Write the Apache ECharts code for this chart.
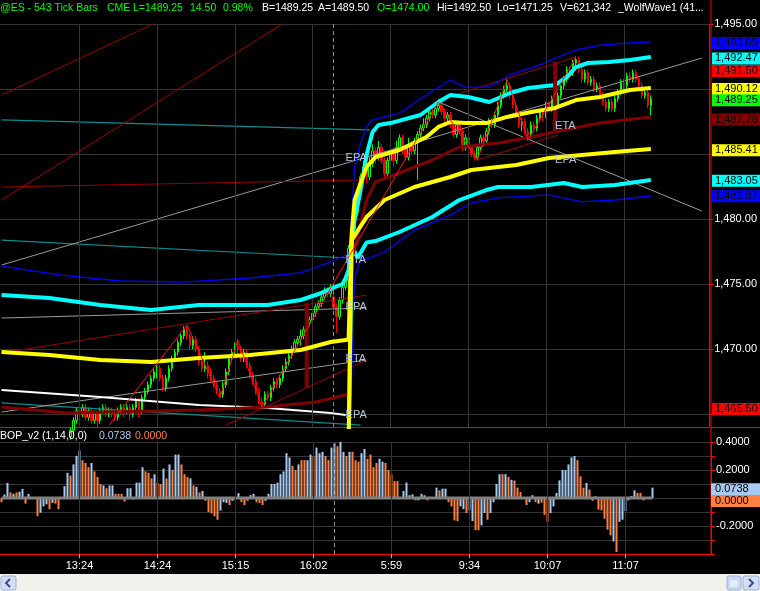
<!DOCTYPE html>
<html><head><meta charset="utf-8">
<script src="https://cdn.jsdelivr.net/npm/echarts@6/dist/echarts.min.js"></script>
<style>html,body{margin:0;padding:0;background:#000;overflow:hidden}#c{width:760px;height:591px}</style>
</head><body><div id="c"></div>
<script>
// ---------- DATA ----------
const timeLabels = ['13:24','14:24','15:15','16:02','5:59','9:34','10:07','11:07'];
const timeIdx = [26,52,78,104,130,156,182,208];
const sessionBreak = 111;
const hiddenPriceLabels = [1465, 1485, 1490];
const opens = [
1462.5,1462.25,1462.5,1463,1462.75,1463,1462.75,1463,1463.25,1463,
1463.25,1463,1462.5,1462.25,1462,1462,1461.75,1461.75,1461.5,1461.5,
1461.75,1462.25,1462.75,1463.25,1463.75,1464.5,1465.25,1465,1465.5,1464.75,
1465.25,1464.5,1465,1464.5,1465.25,1465.5,1465,1465.25,1465,1464.75,
1465.25,1465.5,1465.25,1465.5,1465,1465.5,1466,1465.25,1466.25,1466.75,
1467.25,1467.75,1468.25,1468.5,1467.75,1467,1467.75,1468.5,1469.25,1469.75,
1470.5,1471,1471.5,1471,1470.25,1470.75,1470,1469,1468.5,1468.75,
1468.25,1467.75,1467.25,1466.75,1466.5,1467.25,1468.25,1469.25,1469.75,1470.25,
1470,1469.25,1469.75,1468.75,1468,1467.5,1466.75,1466,1465.75,1466.5,
1466.25,1467,1467.5,1467.25,1467.75,1468.5,1469,1469.5,1470,1470.5,
1470.75,1471,1471.5,1472,1472.25,1472.75,1473.25,1473.5,1474,1474.5,
1474.25,1474,1473.25,1472.5,1473.75,1474.75,1475.25,1477.75,1479.25,1480.5,
1482,1483.25,1484,1483.25,1484.25,1485.25,1484.75,1485.5,1484.5,1483.5,
1484.5,1485.25,1484.5,1485.5,1486.25,1485.5,1484.75,1485.75,1485.25,1486,
1486.5,1487,1487.25,1487.75,1488.25,1488,1488.5,1488.75,1488.25,1487.75,
1488,1487.25,1486.5,1487.25,1486.75,1485.5,1486.25,1485.5,1485,1484.75,
1485.5,1486.25,1486,1486.75,1487.5,1487.25,1488,1488.75,1489.5,1490,
1490.25,1489.5,1488.75,1488,1487.25,1487.5,1486.75,1486.5,1487.25,1487,
1487.75,1488.25,1488,1488.75,1488.5,1489.25,1488.75,1489.5,1490.25,1490.75,
1491.5,1491.25,1492,1492.25,1491.5,1490.75,1491.25,1490.5,1490.75,1490,
1490.25,1489.5,1489,1488.5,1489,1488.5,1489.25,1489.75,1490.5,1490.25,
1491,1490.75,1491.25,1490.75,1490.25,1489.5,1489.75,1488.75];
const closes = [
1462.25,1462.5,1463,1462.75,1463,1462.75,1463,1463.25,1463,1463.25,
1463,1462.5,1462.25,1462,1462,1461.75,1461.75,1461.5,1461.5,1461.75,
1462.25,1462.75,1463.25,1463.75,1464.5,1465.25,1465,1465.5,1464.75,1465.25,
1464.5,1465,1464.5,1465.25,1465.5,1465,1465.25,1465,1464.75,1465.25,
1465.5,1465.25,1465.5,1465,1465.5,1466,1465.25,1466.25,1466.75,1467.25,
1467.75,1468.25,1468.5,1467.75,1467,1467.75,1468.5,1469.25,1469.75,1470.5,
1471,1471.5,1471,1470.25,1470.75,1470,1469,1468.5,1468.75,1468.25,
1467.75,1467.25,1466.75,1466.5,1467.25,1468.25,1469.25,1469.75,1470.25,1470,
1469.25,1469.75,1468.75,1468,1467.5,1466.75,1466,1465.75,1466.5,1466.25,
1467,1467.5,1467.25,1467.75,1468.5,1469,1469.5,1470,1470.5,1470.75,
1471,1471.5,1472,1472.25,1472.75,1473.25,1473.5,1474,1474.5,1474.25,
1474.75,1473.25,1472.5,1473.75,1474.75,1475.25,1477.75,1479.25,1480.5,1482,
1483.25,1484,1483.25,1484.25,1485.25,1484.75,1485.5,1484.5,1483.5,1484.5,
1485.25,1484.5,1485.5,1486.25,1485.5,1484.75,1485.75,1485.25,1486,1486.5,
1487,1487.25,1487.75,1488.25,1488,1488.5,1488.75,1488.25,1487.75,1488,
1487.25,1486.5,1487.25,1486.75,1485.5,1486.25,1485.5,1485,1484.75,1485.5,
1486.25,1486,1486.75,1487.5,1487.25,1488,1488.75,1489.5,1490,1490.25,
1489.5,1488.75,1488,1487.25,1487.5,1486.75,1486.5,1487.25,1487,1487.75,
1488.25,1488,1488.75,1488.5,1489.25,1488.75,1489.5,1490.25,1490.75,1491.5,
1491.25,1492,1492.25,1491.5,1490.75,1491.25,1490.5,1490.75,1490,1490.25,
1489.5,1489,1488.5,1489,1488.5,1489.25,1489.75,1490.5,1490.25,1491,
1490.75,1491.25,1490.75,1490.25,1489.5,1489.75,1488.75,1489.25];
const highs = [
1462.75,1462.75,1463.25,1463.25,1463.25,1463.25,1463.25,1463.5,1463.5,1463.5,
1463.5,1463,1462.75,1462.5,1462.25,1462.25,1462,1462,1461.75,1462,
1462.5,1463,1463.5,1464,1464.75,1465.5,1465.5,1465.75,1465.75,1465.5,
1465.5,1465.25,1465.25,1465.5,1465.75,1465.75,1465.5,1465.5,1465.25,1465.5,
1465.75,1465.75,1465.75,1465.75,1465.75,1466.25,1466.25,1466.5,1467,1467.5,
1468,1468.5,1468.75,1468.75,1468,1468,1468.75,1469.5,1470,1470.75,
1471.25,1471.75,1471.75,1471.25,1471,1471,1470.25,1469.25,1469.75,1469,
1468.5,1468,1467.5,1467,1467.5,1468.5,1469.5,1470,1470.5,1470.75,
1470.25,1470,1470,1469,1468.25,1467.75,1467,1466.25,1466.75,1466.75,
1467.25,1467.75,1467.75,1468,1468.75,1469.25,1469.75,1470.25,1470.75,1471,
1471.5,1471.75,1472.25,1472.5,1473,1473.5,1473.75,1474.25,1474.75,1474.75,
1475,1474.5,1473.5,1474,1475,1475.5,1478,1479.5,1480.75,1482.25,
1483.5,1484.5,1484.25,1484.75,1485.75,1485.5,1486,1485.75,1484.75,1484.75,
1485.75,1485.5,1486,1486.5,1486.5,1485.75,1486.25,1486,1486.25,1486.75,
1487.25,1487.75,1488,1488.5,1488.5,1488.75,1489.25,1489,1488.5,1488.25,
1488.25,1487.5,1487.5,1487.5,1487,1486.5,1486.5,1485.75,1485.25,1485.75,
1486.5,1486.5,1487,1487.75,1487.75,1488.25,1489,1489.75,1490.25,1490.75,
1490.5,1489.75,1489,1488.25,1487.75,1487.75,1487,1487.5,1487.5,1488,
1488.5,1488.5,1489,1489,1489.5,1489.5,1489.75,1490.5,1491,1491.75,
1491.75,1492.25,1492.5,1492.5,1491.75,1491.5,1491.5,1491,1491,1490.5,
1490.5,1489.75,1489.25,1489.25,1489.25,1489.5,1490,1490.75,1490.75,1491.25,
1491.25,1491.5,1491.5,1491,1490.5,1490,1490,1489.5];
const lows = [
1462,1462,1462.25,1462.5,1462.5,1462.5,1462.5,1462.75,1462.75,1462.75,
1462.75,1462.25,1462,1461.75,1461.75,1461.5,1461.5,1461.25,1461.25,1461.25,
1461.5,1462,1462.5,1463,1463.5,1464.25,1464.5,1464.75,1464.5,1464.5,
1464.25,1464.25,1464,1464.25,1465,1464.75,1464.75,1464.75,1464.5,1464.5,
1465,1464.75,1465,1464.5,1464.75,1465.25,1464.75,1465,1466,1466.5,
1467,1467.5,1467.75,1467.5,1466.75,1466.75,1467.5,1468.25,1469,1469.5,
1470.25,1470.75,1470.75,1470,1470,1469.75,1468.75,1468.25,1468.25,1467.75,
1467.5,1467,1466.5,1466.25,1466.25,1467,1468,1469,1469.5,1469.5,
1469,1469,1468.5,1467.75,1467.25,1466.5,1465.75,1465.5,1465.5,1466,
1466,1466.75,1467,1467,1467.5,1468.25,1468.75,1469.25,1469.75,1470.25,
1470.25,1470.75,1471.25,1471.75,1472,1472.5,1473,1473.25,1473.75,1474,
1474,1473,1471.25,1472.25,1473.5,1474.5,1475,1477.5,1479,1480.25,
1481.75,1483,1482.75,1483,1484,1484.25,1484.5,1484.25,1483.25,1483.25,
1484.25,1484,1484.25,1485.25,1485,1484.5,1484.5,1485,1485,1483,
1486.25,1486.75,1487,1487.5,1487.75,1487.75,1488.25,1488,1487.5,1487.5,
1487,1486.25,1486.25,1486.5,1485.25,1485.25,1485.25,1484.75,1484.5,1484.5,
1485.25,1485.75,1485.75,1486.5,1487,1487,1487.75,1488.5,1489.25,1489.75,
1489.25,1488.5,1487.75,1487,1486.75,1486.5,1486,1486.25,1486.75,1486.75,
1487.5,1487.5,1487.75,1488.25,1488.25,1488.5,1488.5,1489.25,1490,1490.5,
1491,1491,1491.75,1491.25,1490.5,1490.5,1490.25,1490.25,1489.75,1489.75,
1489.25,1488.75,1488.25,1488.25,1488.25,1488.25,1489,1489.5,1490,1490,
1490.5,1490.5,1490.5,1490,1489.25,1489.25,1488.5,1488];

// Session bands [barIndex, price]
const blueUpper = [[0,1476.38],[20,1475.69],[40,1475.23],[61,1475.15],[83,1475.46],[100,1475.85],[110,1476.69],[115,1477.23],[116,1476.5],[118,1484.0],[120,1485.85],[122,1487.08],[124,1487.62],[133,1488.15],[143,1489.69],[150,1490.69],[155,1490.15],[163,1490.15],[170,1491.08],[180,1491.85],[186,1492.46],[192,1493.0],[200,1493.38],[210,1493.54],[217,1493.62]];
const cyanUpper = [[0,1474.15],[16,1473.92],[33,1473.38],[50,1473.0],[66,1473.38],[89,1473.38],[100,1473.77],[106,1474.23],[110,1474.62],[114,1475.0],[115,1475.46],[116,1476.08],[118,1479.92],[120,1482.23],[122,1484.92],[124,1486.69],[126,1487.23],[130,1487.38],[140,1488.0],[146,1489.0],[150,1489.54],[156,1489.38],[163,1489.0],[170,1489.69],[176,1490.08],[185,1490.31],[189,1490.92],[192,1491.69],[196,1492.0],[203,1492.08],[210,1492.23],[217,1492.46]];
const yellowUpper = [[0,1469.77],[16,1469.54],[33,1469.15],[50,1469.0],[66,1469.31],[83,1469.54],[100,1469.92],[110,1470.54],[115,1470.69],[116,1470.75],[117,1478.77],[118,1481.46],[120,1482.77],[122,1484.0],[125,1484.77],[133,1485.31],[142,1486.31],[146,1487.08],[150,1487.46],[155,1487.38],[162,1487.38],[169,1487.85],[177,1488.23],[185,1488.54],[192,1489.15],[200,1489.38],[210,1489.92],[217,1490.08]];
const vwapLine = [[0,1465.54],[22,1465.08],[66,1465.31],[89,1465.54],[105,1465.92],[115,1466.46],[116,1466.6],[117,1476.85],[122,1481.46],[125,1482.85],[133,1483.54],[144,1484.54],[153,1485.54],[166,1485.85],[177,1486.31],[188,1486.85],[200,1487.38],[217,1487.85]];
const yellowLower = [[0,1461.0],[115,1461.5],[116,1463.0],[117,1478.38],[122,1480.15],[128,1481.46],[138,1482.46],[150,1483.23],[157,1483.77],[172,1484.15],[183,1484.69],[194,1484.92],[205,1485.15],[217,1485.38]];
const cyanLower = [[0,1456],[115,1457],[116,1462],[117,1478.0],[119,1477.0],[122,1478.2],[125,1478.3],[133,1479.0],[144,1480.15],[153,1481.46],[162,1482.23],[166,1482.46],[177,1482.46],[188,1482.77],[194,1482.46],[205,1482.62],[217,1483.0]];
const blueLower = [[0,1454],[115,1455],[116,1460],[118,1475.5],[120,1476.85],[123,1477.0],[128,1477.46],[138,1479.15],[150,1480.3],[157,1481.23],[166,1481.62],[183,1481.85],[194,1481.31],[205,1481.46],[217,1481.77]];
const whiteLine = [[0,1466.85],[33,1466.31],[66,1465.69],[89,1465.46],[110,1465.08],[115,1464.92]];
// Trend lines [[i1,p1],[i2,p2]]
const tealLines = [[[0,1487.62],[123,1486.85]],[[0,1478.38],[116,1477.0]],[[0,1465.85],[120,1464.15]]];
const greyLines = [[[0,1476.46],[234,1492.38]],[[146,1489.0],[234,1480.62]],[[0,1472.38],[122,1473.15]],[[0,1465.15],[122,1469.15]]];
const maroonThin = [[[0,1469.69],[122,1474.15]],[[75,1464.15],[122,1469.15]],[[146,1489.15],[192,1492.46]],[[159,1484.54],[186,1486.46]],[[0,1489.54],[55,1495.46]],[[0,1481.46],[97,1495.46]],[[0,1482.46],[120,1483.0]]];
const maroonBars = [[[102,1473.54],[102,1467.0]],[[185,1492.08],[185,1486.69]]];
const wolfWave = [[36,1464.15],[62,1471.85],[73,1466.23],[79,1470.69],[87,1465.54],[146,1489.0],[159,1484.54],[169,1490.69],[176,1486.08],[192,1492.46]];
const pointLabels = [['EPA',115,1484.69],['ETA',115,1476.85],['EPA',115,1473.23],['ETA',115,1469.23],['EPA',115,1464.92],['EPA',185,1484.54],['ETA',185,1487.15]];
// Right-axis value tags
const tagValues = [1493.65,1492.47,1491.50,1490.12,1489.25,1487.76,1485.41,1483.05,1481.87,1465.50];
const tagColors = ['#0000FF','#00FFFF','#FF0000','#FFFF00','#00FF00','#800000','#FFFF00','#00FFFF','#0000FF','#FF0000'];
// BOP indicator
const bopValues = [
-0.03,0.025,0.107,0.04,0.03,0.04,0.045,0.065,-0.04,0.03,
0.005,0.005,-0.13,-0.105,-0.06,-0.045,-0.08,-0.035,-0.04,-0.08,
0.005,0.085,0.18,0.16,0.24,0.30,0.34,0.27,0.25,0.22,
0.25,0.19,0.15,0.10,0.09,0.07,0.09,0.09,0.03,0.03,
0.03,-0.025,0.07,0.07,-0.01,0.11,0.11,0.22,0.19,0.18,
0.14,0.17,0.11,0.10,0.21,0.14,0.24,0.20,0.31,0.31,
0.24,0.17,0.15,0.14,0.09,0.08,0.04,0.05,-0.02,-0.10,
-0.11,-0.13,-0.155,-0.09,-0.03,-0.035,-0.05,-0.02,0.005,0.035,
-0.03,-0.05,-0.02,0.02,0.03,-0.03,-0.035,-0.05,-0.02,0.03,
0.10,0.10,0.11,0.17,0.19,0.32,0.29,0.23,0.20,0.24,
0.27,0.27,0.27,0.31,0.30,0.36,0.32,0.33,0.30,0.27,
0.36,0.39,0.37,0.40,0.33,0.30,0.33,0.33,0.27,0.26,
0.32,0.35,0.28,0.31,0.22,0.25,0.28,0.26,0.25,0.20,
0.17,0.12,0.12,0.005,0.05,0.11,0.02,0.026,-0.017,-0.017,
0.03,0.02,-0.017,0.005,0.005,0.074,0.055,0.067,0.067,-0.03,
-0.06,-0.16,-0.165,-0.06,-0.08,-0.107,-0.088,-0.165,-0.23,-0.23,
-0.195,-0.107,-0.155,-0.107,-0.03,0.10,0.17,0.17,0.17,0.15,
0.13,0.125,0.074,0.043,0.005,-0.05,-0.03,0.02,-0.03,-0.04,
-0.033,-0.12,-0.17,-0.107,-0.06,0.036,0.126,0.20,0.20,0.24,
0.29,0.30,0.27,0.155,0.074,0.107,0.06,-0.02,0.012,-0.083,
-0.088,-0.148,-0.226,-0.267,-0.31,-0.386,-0.17,-0.155,-0.093,-0.017,
0.014,0.055,0.036,0.036,-0.017,0,0,0.0738];
// BOP bar colour code per bar (b = light blue, o = orange)
const bopColorCodes = [
'o','b','b','o','b','o','b','b','o','b',
'b','b','o','b','b','b','o','b','o','o',
'b','b','b','o','b','b','b','o','o','o',
'b','o','o','o','b','o','b','b','o','o',
'o','o','b','b','o','b','b','b','o','o',
'o','b','o','o','b','o','b','o','b','b',
'o','o','o','b','o','b','o','b','o','o',
'o','o','o','b','b','b','o','b','b','b',
'o','o','o','b','b','o','o','o','b','b',
'b','b','b','b','b','b','b','o','o','b',
'o','o','b','b','o','b','b','b','o','o',
'b','b','o','b','b','o','b','o','o','o',
'b','b','o','o','o','o','b','b','o','o',
'o','o','o','b','b','b','b','b','o','b',
'b','b','o','b','b','b','o','b','b','o',
'o','o','o','b','b','o','b','b','o','o',
'b','b','o','b','b','b','b','o','b','o',
'b','o','o','o','b','o','b','b','o','b',
'o','o','o','b','b','b','b','b','b','b',
'b','b','o','o','o','b','o','o','b','o',
'o','o','o','o','b','o','b','b','b','b',
'b','b','o','o','o','b','b','b'];
</script>
<script>
// ---------- CHART ----------
const N = 237;
const cats = Array.from({length: N}, (_, i) => String(i));
const labelAt = {};
timeIdx.forEach((k, j) => { labelAt[k] = timeLabels[j]; });
const FONT = '"Liberation Sans", Arial, sans-serif';
function fmtPrice(v) {
  const s = Number(v).toFixed(2).split('.');
  return s[0].replace(/\B(?=(\d{3})+(?!\d))/g, ',') + '.' + s[1];
}
function ln(data, color, width, z, extra) {
  return Object.assign({type: 'line', xAxisIndex: 0, yAxisIndex: 0, data: data, symbol: 'none', showSymbol: false,
    lineStyle: {color: color, width: width}, silent: true, z: z, clip: true, animation: false}, extra || {});
}
const vLines = timeIdx.map(k => ({xAxis: k, lineStyle: {color: '#343434', width: 1, type: 'solid'}}))
  .concat([{xAxis: sessionBreak, lineStyle: {color: '#8a8a8a', width: 1, type: [4, 3]}}]);
const markV = {silent: true, symbol: ['none', 'none'], label: {show: false}, data: vLines, animation: false};

const series = [];
series.push({type: 'candlestick', xAxisIndex: 0, yAxisIndex: 0,
  data: opens.map((o, i) => [o, closes[i], lows[i], highs[i]]),
  barWidth: 2, clip: true, z: 2, silent: true,
  itemStyle: {color: '#000000', color0: '#FF0000', borderColor: '#00FF00', borderColor0: '#FF0000', borderWidth: 1},
  markLine: markV});
tealLines.forEach(d => series.push(ln(d, '#0E8C8C', 1.2, 3)));
greyLines.forEach(d => series.push(ln(d, '#9A9A9A', 1, 3)));
maroonThin.forEach(d => series.push(ln(d, '#9A0000', 1, 3)));
series.push(ln(whiteLine, '#FFFFFF', 2, 4));
series.push(ln(blueUpper, '#0000FF', 1.3, 4));
series.push(ln(blueLower, '#0000FF', 1.3, 4));
series.push(ln(cyanUpper, '#00FFFF', 4, 5));
series.push(ln(cyanLower, '#00FFFF', 4, 5));
series.push(ln(vwapLine, '#800000', 3, 5));
series.push(ln(yellowLower, '#FFFF00', 4, 5));
series.push(ln(yellowUpper, '#FFFF00', 4, 6));
maroonBars.forEach(d => series.push(ln(d, '#800000', 4, 5)));
series.push(ln(wolfWave, '#FF1010', 1, 7));
// BOP
series.push({type: 'bar', xAxisIndex: 1, yAxisIndex: 1, barWidth: 2, silent: true, z: 3,
  data: bopValues.map((v, i) => ({value: v, itemStyle: {color: bopColorCodes[i] === 'b' ? '#A6CAF0' : '#FF8040'}})),
  markLine: markV});
series.push({type: 'line', xAxisIndex: 1, yAxisIndex: 1, data: [[0, 0], [bopValues.length - 1, 0]], symbol: 'none',
  lineStyle: {color: '#808080', width: 3}, silent: true, z: 4});

const option = {
  backgroundColor: '#000000',
  animation: false,
  grid: [{left: 0, top: 24, width: 711, height: 403}, {left: 0, top: 442, width: 711, height: 112}],
  xAxis: [
    {type: 'category', gridIndex: 0, data: cats, boundaryGap: true,
      axisLine: {show: true, onZero: false, lineStyle: {color: '#FF0000'}}, axisTick: {show: false}, axisLabel: {show: false}, splitLine: {show: false}},
    {type: 'category', gridIndex: 1, data: cats, boundaryGap: true,
      axisLine: {show: true, onZero: false, lineStyle: {color: '#FF0000'}},
      axisTick: {show: true, alignWithLabel: true, interval: (i) => labelAt[i] !== undefined, length: 4, lineStyle: {color: '#BBBBBB'}},
      axisLabel: {show: true, interval: (i) => labelAt[i] !== undefined, formatter: (v, i) => labelAt[i] || '', color: '#FFFFFF', fontSize: 11, fontFamily: FONT, margin: 6},
      splitLine: {show: false}}
  ],
  yAxis: [
    {type: 'value', gridIndex: 0, position: 'right', min: 1464, max: 1495, splitNumber: 6,
      axisLine: {show: true, lineStyle: {color: '#FF0000'}},
      axisTick: {show: true, length: 4, lineStyle: {color: '#FF0000'}},
      axisLabel: {color: '#FFFFFF', fontSize: 11, fontFamily: FONT, margin: 5, showMinLabel: false,
        formatter: (v) => hiddenPriceLabels.indexOf(Math.round(v)) >= 0 ? '' : fmtPrice(v)},
      splitLine: {show: true, lineStyle: {color: '#343434'}}},
    {type: 'value', gridIndex: 1, position: 'right', min: -0.4, max: 0.4, interval: 0.1,
      axisLine: {show: true, lineStyle: {color: '#FF0000'}},
      axisTick: {show: true, length: 4, lineStyle: {color: '#FF0000'}},
      axisLabel: {color: '#FFFFFF', fontSize: 11, fontFamily: FONT, margin: 5,
        formatter: (v) => { const k = Math.round(v * 10); return (k % 2 !== 0 || k === -4) ? '' : Number(v).toFixed(4); }},
      splitLine: {show: true, lineStyle: {color: '#343434'}}}
  ],
  series: series
};

const chart = echarts.init(document.getElementById('c'), null, {renderer: 'canvas'});
chart.setOption(option);

// ---------- annotations (positions from the chart's own scales) ----------
const g = [];
function txt(s, x, y, fill, extra, size) {
  g.push(Object.assign({type: 'text', x: x, y: y, silent: true, z: 100,
    style: {text: s, fill: fill, font: (size || 11) + 'px ' + FONT, align: 'left', verticalAlign: 'middle'}}, extra || {}));
}
// header
const hdr = [['@ES - 543 Tick Bars', 0, '#00FF00'], ['CME', 107, '#00FF00'], ['L=1489.25', 133, '#00FF00'], ['14.50', 190, '#00FF00'],
  ['0.98%', 223, '#00FF00'], ['B=1489.25', 262, '#FFFFFF'], ['A=1489.50', 318, '#FFFFFF'], ['O=1474.00', 377, '#00FF00'],
  ['Hi=1492.50', 437, '#FFFFFF'], ['Lo=1471.25', 497, '#FFFFFF'], ['V=621,342', 560, '#FFFFFF'], ['_WolfWave1 (41...', 618, '#FFFFFF']];
hdr.forEach(h => txt(h[0], h[1], 8, h[2], null, 10.5));
txt('BOP_v2 (1,14,0,0)', 0, 436, '#FFFFFF', null, 10.5);
txt(bopValues[bopValues.length - 1].toFixed(4), 99, 436, '#A6CAF0', null, 10.5);
txt('0.0000', 135, 436, '#FF8040', null, 10.5);
// EPA / ETA labels
pointLabels.forEach(p => {
  const xy = chart.convertToPixel({gridIndex: 0}, [p[1], p[2]]);
  txt(p[0], xy[0], xy[1], '#B4C4E0');
});
// price tags
tagValues.forEach((v, i) => {
  const y = chart.convertToPixel({yAxisIndex: 0}, v) + 1.5;
  g.push({type: 'rect', silent: true, z: 101, shape: {x: 712, y: y - 6, width: 48, height: 12}, style: {fill: tagColors[i]}});
  txt(fmtPrice(v), 715, y, '#000000', {z: 102});
});
// BOP tags
const bopTags = [[bopValues[bopValues.length - 1], '#A6CAF0', 1.5], [0, '#FF8040', 3]];
bopTags.forEach(t => {
  const y = chart.convertToPixel({yAxisIndex: 1}, t[0]) + t[2];
  g.push({type: 'rect', silent: true, z: 101, shape: {x: 711, y: y - 6, width: 49, height: 12}, style: {fill: t[1]}});
  txt(t[0].toFixed(4), 715, y, '#000000', {z: 102});
});
// red frame lines
g.push({type: 'line', silent: true, z: 99, shape: {x1: 711, y1: 0, x2: 711, y2: 554}, style: {stroke: '#FF0000', lineWidth: 1}});
g.push({type: 'line', silent: true, z: 99, shape: {x1: 711, y1: 427.5, x2: 760, y2: 427.5}, style: {stroke: '#FF0000', lineWidth: 1}});
// scrollbar
g.push({type: 'rect', silent: true, z: 100, shape: {x: 0, y: 574, width: 760, height: 17}, style: {fill: '#F2F1EC'}});
g.push({type: 'rect', silent: true, z: 101, shape: {x: 1, y: 576, width: 15, height: 14, r: 2}, style: {fill: '#D3DEF3', stroke: '#9FB0D2'}});
g.push({type: 'polyline', silent: true, z: 102, shape: {points: [[10, 579], [6, 583], [10, 587]]}, style: {stroke: '#3C4E86', lineWidth: 2, fill: null}});
g.push({type: 'rect', silent: true, z: 101, shape: {x: 727, y: 576, width: 14, height: 14, r: 2}, style: {fill: '#C9D8F2', stroke: '#9FB0D2'}});
[731, 733, 735, 737].forEach(x => g.push({type: 'line', silent: true, z: 102, shape: {x1: x, y1: 580, x2: x, y2: 587}, style: {stroke: '#FFFFFF', lineWidth: 1}}));
g.push({type: 'rect', silent: true, z: 101, shape: {x: 743, y: 576, width: 16, height: 14, r: 2}, style: {fill: '#D3DEF3', stroke: '#9FB0D2'}});
g.push({type: 'polyline', silent: true, z: 102, shape: {points: [[749, 579], [753, 583], [749, 587]]}, style: {stroke: '#3C4E86', lineWidth: 2, fill: null}});
chart.setOption({graphic: g});
</script>
</body></html>
